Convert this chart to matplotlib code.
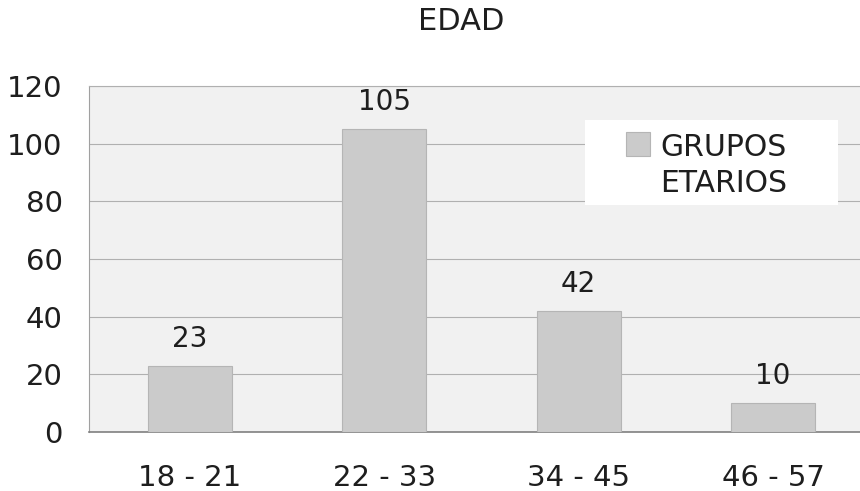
import matplotlib
matplotlib.use("Agg")
import matplotlib.pyplot as plt
from matplotlib.patches import Rectangle

categories = ["18 - 21", "22 - 33", "34 - 45", "46 - 57"]
values = [23, 105, 42, 10]
series_name = "GRUPOS\nETARIOS"
title = "EDAD"
yticks = [0, 20, 40, 60, 80, 100, 120]

W, H = 860, 491
plt.rcParams['font.family'] = ['DejaVu Sans']
fig = plt.figure(figsize=(W/100, H/100), dpi=100)
ax = fig.add_axes([89/W, 1-432/H, (860-89)/W, (432-86)/H])
ax.set_facecolor('#f1f1f1')
x = list(range(len(categories)))
bar_color = '#cbcbcb'
ax.bar(x, values, width=0.433, color=bar_color, edgecolor='#b5b5b5', linewidth=0.8, zorder=3)
for xi, v in zip(x, values):
    ax.annotate(str(v), (xi, v), xytext=(0, 13.5), textcoords='offset points',
                ha='center', va='baseline', fontsize=20, color='#1e1e1e', zorder=4)
ax.set_xlim(-0.52, 3.448)
ax.set_ylim(0, 120)
ax.set_yticks(yticks)
ax.set_xticks(x)
ax.set_xticklabels(categories)
ax.tick_params(axis='both', length=0, labelsize=21, colors='#1e1e1e')
ax.tick_params(axis='x', pad=23)
ax.tick_params(axis='y', pad=19)
ax.grid(axis='y', color='#b0b0b0', linewidth=0.8, zorder=0)
ax.spines['right'].set_visible(False)
ax.spines['top'].set_color('#b0b0b0')
ax.spines['top'].set_linewidth(0.8)
ax.spines['left'].set_color('#a0a0a0')
ax.spines['bottom'].set_color('#808080')
ax.spines['bottom'].set_linewidth(1.2)

fig.text(461/W, 1-22/H, title, ha='center', va='center', fontsize=22, color='#1e1e1e')

# legend box (drawn manually so the key sits at the first text line)
fig.patches.append(Rectangle((585/W, 1-205/H), (838-585)/W, (205-120)/H,
                             transform=fig.transFigure, facecolor='white',
                             edgecolor='none', zorder=5))
fig.patches.append(Rectangle((626/W, 1-156/H), 24/W, 24/H,
                             transform=fig.transFigure, facecolor=bar_color,
                             edgecolor='#b5b5b5', linewidth=0.8, zorder=6))
fig.text(660/W, 1-133/H, series_name, ha='left', va='top', fontsize=21.5,
         color='#1e1e1e', linespacing=1.3, zorder=7)
fig.savefig("out.png", dpi=100)
